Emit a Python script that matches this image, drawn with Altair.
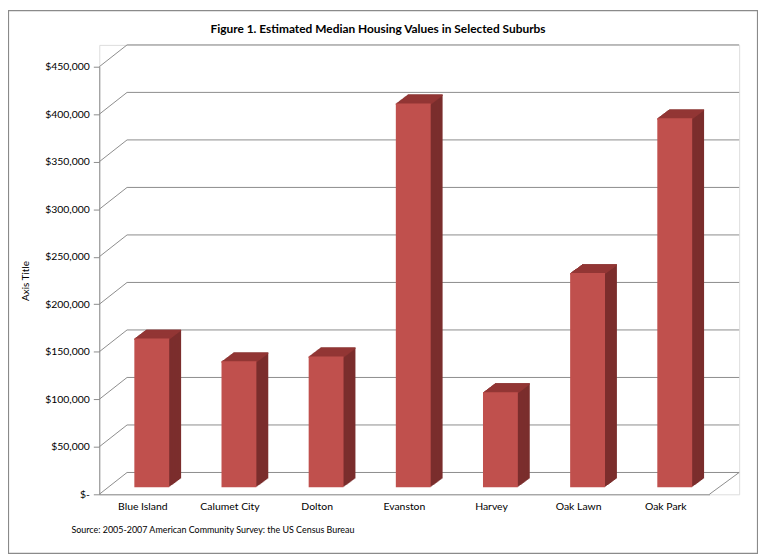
import altair as alt
import pandas as pd

suburbs = ["Blue Island", "Calumet  City", "Dolton", "Evanston", "Harvey", "Oak Lawn", "Oak Park"]
values = [156600, 132600, 137800, 404000, 100200, 225500, 388400]
ticks = [0, 50000, 100000, 150000, 200000, 250000, 300000, 350000, 400000, 450000]

title_text = "Figure 1. Estimated Median Housing  Values in Selected Suburbs"
source_text = "Source: 2005-2007 American Community Survey: the US Census Bureau"

df = pd.DataFrame({"suburb": suburbs, "value": values})
tdf = pd.DataFrame({"tick": ticks})

W, H = 645, 453
FRONT_W = 615
DX, DY = 28, 22          # depth of the box
BX, BY = 9, 7            # bar front-face offset
EX, EY = 12, 9           # bar extrusion
GRID = "#8c8c8c"
FRONT = "#C0504D"
SIDE = "#7B2E2D"
TOP = "#923634"
FONT = "Lato"

xs = alt.Scale(domain=suburbs, range=[0, FRONT_W], paddingInner=0.6, paddingOuter=0.3)
ys = alt.Scale(domain=[0, 450000], range=[H, DY])

base = alt.Chart(df)
tbase = alt.Chart(tdf)

layers = []

# back wall gridlines
layers.append(tbase.mark_rule(color=GRID, strokeWidth=1, yOffset=-DY).encode(
    x=alt.value(DX), x2=alt.value(W),
    y=alt.Y("tick:Q", scale=ys, axis=alt.Axis(
        values=ticks, title="Axis Title", titleFont=FONT, titleFontSize=10,
        titleFontWeight="normal", titleColor="#000", titlePadding=14,
        labelFont=FONT, labelFontSize=10.5, labelColor="#000", labelPadding=4,
        labelExpr="datum.value == 0 ? '$-\u00a0\u00a0' : '$' + format(datum.value, ',')",
        grid=False, domainColor=GRID, tickColor=GRID, tickSize=6,
    )),
))
# side wall diagonals
layers.append(tbase.mark_rule(color=GRID, strokeWidth=1, y2Offset=-DY).encode(
    x=alt.value(0), x2=alt.value(DX),
    y=alt.Y("tick:Q", scale=ys), y2=alt.Y2("tick:Q"),
))
# floor right edge
layers.append(tbase.transform_filter("datum.tick == 0").mark_rule(color=GRID, strokeWidth=1, y2Offset=-DY).encode(
    x=alt.value(FRONT_W), x2=alt.value(W),
    y=alt.Y("tick:Q", scale=ys), y2=alt.Y2("tick:Q"),
))

xenc = alt.X("suburb:N", scale=xs, sort=suburbs, axis=alt.Axis(
    title=None, labelAngle=0, labelFont=FONT, labelFontSize=10.5, labelColor="#000",
    labelPadding=12, ticks=False, domainColor=GRID, labelBaseline="middle"))

N = 12
# side faces (extrusion)
for s in range(N, 0, -1):
    ox = BX + EX * s / N
    oy = -BY - EY * s / N
    layers.append(base.mark_bar(color=SIDE, xOffset=ox, x2Offset=ox, yOffset=oy, y2Offset=oy).encode(
        x=xenc, y=alt.Y("value:Q", scale=ys), y2=alt.Y2(datum=0)))
# top faces
for s in range(N, -1, -1):
    ox = BX + EX * s / N
    oy = -BY - EY * s / N
    layers.append(base.mark_bar(color=TOP, xOffset=ox, x2Offset=ox, yOffset=oy, y2Offset=oy + 1.5).encode(
        x=xenc, y=alt.Y("value:Q", scale=ys), y2=alt.Y2("value:Q")))
# front faces
layers.append(base.mark_bar(color=FRONT, xOffset=BX, x2Offset=BX, yOffset=-BY, y2Offset=-BY).encode(
    x=xenc, y=alt.Y("value:Q", scale=ys), y2=alt.Y2(datum=0)))

# chart title
layers.append(alt.Chart(pd.DataFrame({"t": [title_text]})).mark_text(
    align="center", baseline="middle", font=FONT, fontSize=12, fontWeight="bold", color="#000").encode(
    x=alt.value(281), y=alt.value(-16), text="t:N"))

# source note
layers.append(alt.Chart(pd.DataFrame({"t": [source_text]})).mark_text(
    align="left", baseline="middle", font=FONT, fontSize=9, color="#000").encode(
    x=alt.value(-28), y=alt.value(H + 36), text="t:N"))

# outer border
layers.append(alt.Chart(pd.DataFrame({"a": [0]})).mark_rect(
    fill=None, stroke="#8a8a8a", strokeWidth=1.2).encode(
    x=alt.value(-91.5), x2=alt.value(W + 18.5), y=alt.value(-34.5), y2=alt.value(H + 59.5)))

chart = alt.layer(*layers).properties(
    width=W, height=H,
    autosize=alt.AutoSizeParams(type="none"),
    padding={"left": 92, "top": 35, "right": 19, "bottom": 60},
).configure_view(stroke=None).configure(background="white")

chart.save("out.html", embed_options={"renderer": "svg", "actions": False})
